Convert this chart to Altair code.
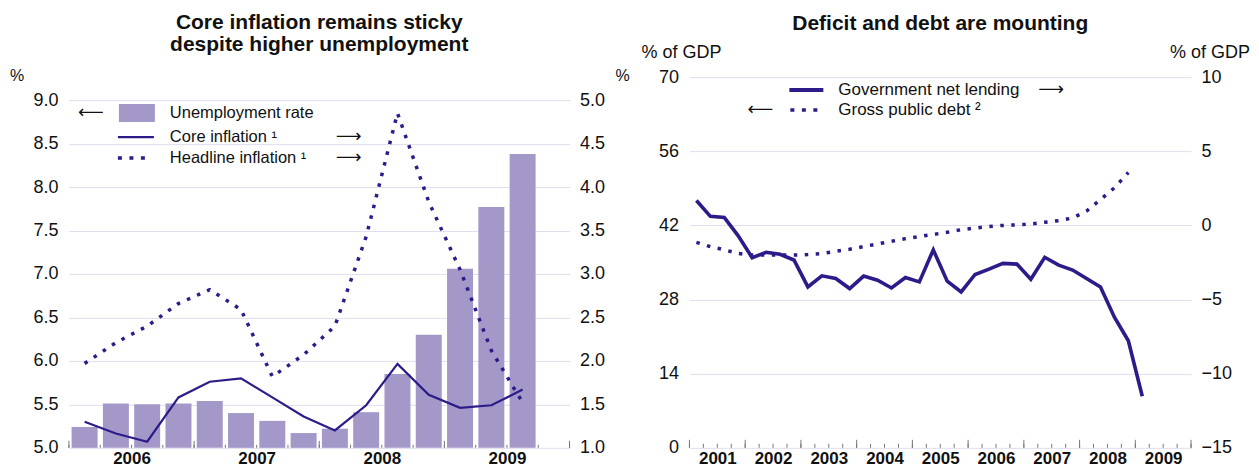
import altair as alt
import pandas as pd
import numpy as np

# ---------------- data ----------------
# Left panel: quarterly, starting 2006 Q1
left_start = 2006
left_years = [2006, 2007, 2008, 2009]
unemployment = [5.24, 5.51, 5.50, 5.51, 5.54, 5.40, 5.31, 5.17, 5.22, 5.41, 5.85, 6.30, 7.06, 7.77, 8.38]
core_inflation = [1.30, 1.165, 1.07, 1.58, 1.76, 1.80, 1.58, 1.36, 1.20, 1.49, 1.965, 1.61, 1.46, 1.49, 1.67]
headline_inflation = [1.97, 2.21, 2.40, 2.66, 2.82, 2.59, 1.82, 2.07, 2.40, 3.43, 4.85, 3.83, 3.05, 2.12, 1.52]
left_ticks_left = [5.0, 5.5, 6.0, 6.5, 7.0, 7.5, 8.0, 8.5, 9.0]
left_ticks_right = [1.0, 1.5, 2.0, 2.5, 3.0, 3.5, 4.0, 4.5, 5.0]

# Right panel: quarterly, starting 2001 Q1
right_start = 2001
right_years = [2001, 2002, 2003, 2004, 2005, 2006, 2007, 2008, 2009]
net_lending = [1.68, 0.61, 0.54, -0.70, -2.18, -1.81, -1.95, -2.33, -4.15, -3.40, -3.58, -4.26,
               -3.42, -3.70, -4.22, -3.51, -3.81, -1.65, -3.76, -4.49, -3.31, -2.95, -2.56, -2.61,
               -3.63, -2.15, -2.68, -3.01, -3.58, -4.15, -6.19, -7.78, -11.52]
gross_debt = [38.8, 38.0, 37.4, 36.7, 36.4, 36.4, 36.4, 36.4, 36.5, 36.7, 37.1, 37.5,
              38.0, 38.5, 39.0, 39.5, 39.9, 40.3, 40.7, 41.2, 41.5, 41.8, 42.0, 42.1,
              42.25, 42.6, 42.9, 43.4, 44.7, 46.9, 49.1, 52.0]
right_ticks_left = [0, 14, 28, 42, 56, 70]
right_ticks_right = [-15, -10, -5, 0, 5, 10]

# ---------------- styles ----------------
FONT = "Liberation Sans"
ARROW_FONT = "DejaVu Sans"
BAR = "#a398c8"
LINE = "#2d1b8a"
GRID = "#e0def0"
TICK = "#777777"
TXT = "#111111"

W1, W2 = 501, 502
H = 371          # common plot height (both panels share the top origin)
TOP1 = 23        # left panel's value range starts lower than the right one


def qtime(start, n):
    return [start + (i + 0.5) / 4 for i in range(n)]


one = pd.DataFrame({"k": [0]})


def txt(s, x, y, size=16.5, weight="normal", align="left", baseline="middle", font=FONT):
    return alt.Chart(one).mark_text(
        text=s, fontSize=size, fontWeight=weight, align=align, baseline=baseline,
        font=font, color=TXT
    ).encode(x=alt.value(x), y=alt.value(y))


def arrow(s, x, y):
    return txt(s, x, y, size=18, align="center", font=ARROW_FONT)


def hswatch(x1, x2, y, width, dash=None):
    kw = dict(color=LINE, strokeWidth=width, strokeCap="butt")
    if dash:
        kw["strokeDash"] = dash
    return alt.Chart(one).mark_rule(**kw).encode(x=alt.value(x1), x2=alt.value(x2), y=alt.value(y))


def year_axis(years):
    return alt.Axis(values=[y + 0.5 for y in years], labelExpr="floor(datum.value)",
                    ticks=False, domain=False, grid=False, labelFontWeight="bold",
                    labelFontSize=17, labelPadding=3, title=None, offset=0)


def tick_rules(positions, scale, axis, h, size):
    df = pd.DataFrame({"t": positions})
    return alt.Chart(df).mark_rule(color=TICK, strokeWidth=1).encode(
        x=alt.X("t:Q", scale=scale, axis=axis),
        y=alt.value(h), y2=alt.value(h - size))


# ---------------- left panel ----------------
ldf = pd.DataFrame({
    "t": qtime(left_start, len(unemployment)),
    "unemp": unemployment,
    "core": core_inflation,
    "head": headline_inflation,
})
xs_l = alt.Scale(domain=[left_years[0], left_years[-1] + 1], nice=False, zero=False, padding=0)
xa_l = year_axis(left_years)
ys_l = alt.Scale(domain=[5, 9], nice=False, zero=False, range=[H, TOP1])
ys_r = alt.Scale(domain=[1, 5], nice=False, zero=False, range=[H, TOP1])
ra_l = alt.Axis(orient="right", values=left_ticks_right, format=".1f", grid=False,
                ticks=False, domain=False, labelPadding=10, title=None, offset=0)

bars = alt.Chart(ldf).mark_bar(size=26, color=BAR).encode(
    x=alt.X("t:Q", scale=xs_l, axis=xa_l),
    y=alt.Y("unemp:Q", scale=ys_l,
            axis=alt.Axis(orient="left", values=left_ticks_left, format=".1f", grid=True,
                          gridColor=GRID, ticks=False, domain=False, labelPadding=11,
                          title=None, offset=0)),
    y2=alt.datum(5),
)
core_line = alt.Chart(ldf).mark_line(color=LINE, strokeWidth=2.2).encode(
    x=alt.X("t:Q", scale=xs_l, axis=xa_l),
    y=alt.Y("core:Q", scale=ys_r, axis=ra_l),
)
head_line = alt.Chart(ldf).mark_line(color=LINE, strokeWidth=3.5, strokeDash=[3.5, 7.5],
                                     strokeCap="butt").encode(
    x=alt.X("t:Q", scale=xs_l, axis=xa_l),
    y=alt.Y("head:Q", scale=ys_r, axis=ra_l),
)
lines_l = alt.layer(core_line, head_line)

minor_l = tick_rules(list(np.arange(left_years[0], left_years[-1] + 1.01, 0.25)), xs_l, xa_l, H, 3)
major_l = tick_rules(left_years + [left_years[-1] + 1], xs_l, xa_l, H, 7)

o = TOP1
left_deco = [
    txt("Core inflation remains sticky", W1 / 2, o - 70.7, size=21, weight="bold", align="center", baseline="alphabetic"),
    txt("despite higher unemployment", W1 / 2, o - 49.3, size=21, weight="bold", align="center", baseline="alphabetic"),
    txt("%", -52, o - 24, size=16, align="center"),
    txt("%", W1 + 53, o - 24, size=16, align="center"),
    arrow("⟵", 22, o + 13),
    alt.Chart(one).mark_rect(color=BAR).encode(x=alt.value(50), x2=alt.value(86), y=alt.value(o + 4), y2=alt.value(o + 22)),
    txt("Unemployment rate", 101, o + 13),
    hswatch(49, 85, o + 37, 2.2),
    txt("Core inflation ¹", 101, o + 37),
    arrow("⟶", 280, o + 37),
    hswatch(49, 76, o + 58, 3.5, dash=[4, 7.5]),
    txt("Headline inflation ¹", 101, o + 58),
    arrow("⟶", 280, o + 58),
]

left = alt.layer(bars, lines_l, minor_l, major_l, *left_deco).resolve_scale(
    y="independent").properties(width=W1, height=H)

# ---------------- right panel ----------------
debt_df = pd.DataFrame({"t": qtime(right_start, len(gross_debt)), "v": gross_debt})
lend_df = pd.DataFrame({"t": qtime(right_start, len(net_lending)), "v": net_lending})
xs_r = alt.Scale(domain=[right_years[0], right_years[-1] + 1], nice=False, zero=False, padding=0)
xa_r = year_axis(right_years)

debt_line = alt.Chart(debt_df).mark_line(color=LINE, strokeWidth=3.5, strokeDash=[3.5, 7.5],
                                         strokeCap="butt").encode(
    x=alt.X("t:Q", scale=xs_r, axis=xa_r),
    y=alt.Y("v:Q", scale=alt.Scale(domain=[0, 70], nice=False),
            axis=alt.Axis(orient="left", values=right_ticks_left, grid=True, gridColor=GRID,
                          ticks=False, domain=False, labelPadding=11, title=None, offset=0)),
)
lend_line = alt.Chart(lend_df).mark_line(color=LINE, strokeWidth=3.6).encode(
    x=alt.X("t:Q", scale=xs_r, axis=xa_r),
    y=alt.Y("v:Q", scale=alt.Scale(domain=[-15, 10], nice=False, zero=False),
            axis=alt.Axis(orient="right", values=right_ticks_right, format="d", grid=False,
                          ticks=False, domain=False, labelPadding=10, title=None, offset=0)),
)
minor_r = tick_rules(list(np.arange(right_years[0], right_years[-1] + 1.01, 0.25)), xs_r, xa_r, H, 4)
major_r = tick_rules(right_years + [right_years[-1] + 1], xs_r, xa_r, H, 8)

right_deco = [
    txt("Deficit and debt are mounting", W2 / 2, -47, size=21, weight="bold", align="center", baseline="alphabetic"),
    txt("% of GDP", -48, -24, size=18),
    txt("% of GDP", W2 - 21, -24, size=18),
    hswatch(100, 134, 13, 4),
    txt("Government net lending", 149, 13, size=17),
    arrow("⟶", 362, 13),
    arrow("⟵", 71, 33),
    hswatch(101, 128, 33, 3.5, dash=[4, 7.5]),
    txt("Gross public debt ²", 149, 33, size=17),
]

right = alt.layer(debt_line, lend_line, minor_r, major_r, *right_deco).resolve_scale(
    y="independent").properties(width=W2, height=H)

chart = alt.hconcat(left, right, spacing=11).properties(
    padding={"left": 1, "top": 4, "right": 0, "bottom": 0}
).configure(font=FONT).configure_view(stroke=None).configure_axis(
    labelFont=FONT, labelFontSize=18, labelColor=TXT)

chart.save("out.html", embed_options={"renderer": "svg", "actions": False})
